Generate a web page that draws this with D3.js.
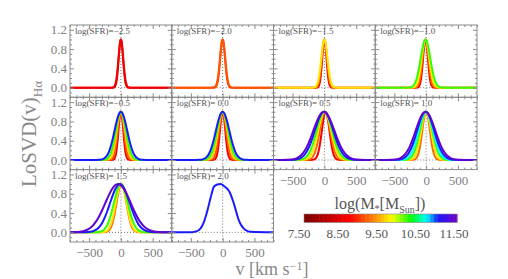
<!DOCTYPE html>
<html><head><meta charset="utf-8">
<script src="https://cdn.jsdelivr.net/npm/d3@7"></script>
<style>
body{margin:0;background:#fff}
svg{display:block}
text{font-family:"Liberation Serif","DejaVu Serif",serif}
</style>
</head><body>
<svg id="c" width="508" height="279"></svg>
<script>
// ---------------- DATA ----------------
const sfrLabels = ["\u22122.5","\u22122.0","\u22121.5","\u22121.0","\u22120.5"," 0.0"," 0.5"," 1.0"," 1.5"," 2.0"];
// stellar mass (log Msun) of each curve, per panel
const panelMasses = [
  [8.3, 8.6],
  [8.9, 9.1],
  [8.6, 9.2, 9.7],
  [8.6, 9.2, 9.7, 10.2],
  [8.6, 9.1, 9.6, 10.2, 11.0],
  [8.6, 9.1, 9.6, 10.2, 11.0],
  [8.6, 9.2, 9.7, 10.2, 11.0, 11.4],
  [9.2, 9.7, 10.2, 10.7, 11.0, 11.4],
  [9.2, 9.7, 10.2, 11.0, 11.4],
  [11.0]
];
// line widths (sigma, km/s)
const panelSigmas = [
  [34, 38],
  [38, 42],
  [34, 42, 50],
  [38, 48, 60, 76],
  [38, 50, 64, 80, 100],
  [42, 56, 72, 88, 106],
  [60, 82, 102, 122, 146, 166],
  [60, 78, 98, 115, 135, 155],
  [78, 86, 110, 155, 200],
  [0]
];
// line centres (km/s)
const panelCenters = [
  [0, 0],
  [0, 0],
  [0, 0, 0],
  [-10, -10, -10, -10],
  [0, 0, 0, 0, 0],
  [0, 0, 0, 0, 0],
  [20, 10, 5, 0, -5, -8],
  [0, 0, 0, -5, -8, -10],
  [10, 5, 0, -15, -45],
  [0]
];
// normalised line shape (offset in sigma units -> height)
const shapeU = [0, 0.25, 0.5, 0.75, 1, 1.25, 1.5, 1.75, 2, 2.25, 2.5, 2.75, 3, 3.5, 4];
const shapeY = [1, 0.969, 0.882, 0.755, 0.607, 0.458, 0.325, 0.216, 0.135, 0.080, 0.044, 0.023, 0.011, 0.002, 0];
// log(SFR)=2.0 panel: single asymmetric profile
const sfr20V = [-800, -500, -450, -370, -295, -240, -190, -135, -85, -30, 20, 75, 115, 180, 255, 360, 440, 800];
const sfr20Y = [0, 0, 0.01, 0.05, 0.21, 0.45, 0.71, 0.95, 0.99, 1.0, 0.96, 0.90, 0.82, 0.58, 0.25, 0.05, 0.01, 0];
const sfr20Mass = 11.0;

const xTicks = [-500, 0, 500];
const yTicks = [0, 0.4, 0.8, 1.2];
const cbTicks = [7.5, 8.5, 9.5, 10.5, 11.5];
const colorStops = [7.5, 8.7, 9.3, 9.8, 10.3, 10.7, 11.0, 11.5];
const colorList = ["#780000", "#ff0000", "#ff8000", "#ffff00", "#00ff00", "#00ffff", "#1a1aff", "#7000c8"];

// ---------------- LAYOUT ----------------
const svg = d3.select("#c");
const colX = [70, 171.75, 273.5, 375.25, 477];
const rowY = [25, 97.3, 169.6, 242];
const xDomain = [-800, 800], yDomain = [-0.2, 1.3];
const color = d3.scaleLinear().domain(colorStops).range(colorList).interpolate(d3.interpolateRgb);
const frameCol = "#8a8a8a", labCol = "#808080";

sfrLabels.forEach((lab, i) => {
  const r = Math.floor(i / 4), c = i % 4;
  const x0 = colX[c], x1 = colX[c + 1], y0 = rowY[r], y1 = rowY[r + 1];
  const x = d3.scaleLinear().domain(xDomain).range([x0, x1]);
  const y = d3.scaleLinear().domain(yDomain).range([y1, y0]);
  const g = svg.append("g");
  const cid = "clip" + i;
  svg.append("clipPath").attr("id", cid).append("rect")
    .attr("x", x0).attr("y", y0).attr("width", x1 - x0).attr("height", y1 - y0);

  // dotted reference lines
  g.append("line").attr("x1", x(0)).attr("x2", x(0)).attr("y1", y0).attr("y2", y1)
    .attr("stroke", "#777").attr("stroke-width", 1).attr("stroke-dasharray", "1,2");
  g.append("line").attr("x1", x0).attr("x2", x1).attr("y1", y(0)).attr("y2", y(0))
    .attr("stroke", "#777").attr("stroke-width", 1).attr("stroke-dasharray", "1,2");

  const line = d3.line().x(d => x(d[0])).y(d => y(d[1])).curve(d3.curveMonotoneX);
  const cg = g.append("g").attr("clip-path", `url(#${cid})`);
  if (i === 9) {
    const pts = sfr20V.map((v, k) => [v, sfr20Y[k]]);
    cg.append("path").attr("d", line(pts)).attr("fill", "none")
      .attr("stroke", color(sfr20Mass)).attr("stroke-width", 2);
  } else {
    panelMasses[i].forEach((m, j) => {
      const s = panelSigmas[i][j], ce = panelCenters[i][j];
      const pts = [[xDomain[0], 0]];
      for (let k = shapeU.length - 1; k > 0; k--) pts.push([ce - shapeU[k] * s, shapeY[k]]);
      for (let k = 0; k < shapeU.length; k++) pts.push([ce + shapeU[k] * s, shapeY[k]]);
      pts.push([xDomain[1], 0]);
      cg.append("path").attr("d", line(pts)).attr("fill", "none")
        .attr("stroke", color(m)).attr("stroke-width", 2);
    });
  }

  // axes (ticks inward, all four sides)
  const showX = (r === 2) || (r === 1 && c >= 2);
  const showY = c === 0;
  const minorX = d3.range(-800, 801, 100).filter(v => !xTicks.includes(v));
  const minorY = d3.range(-0.1, 1.25, 0.1).map(v => +v.toFixed(1)).filter(v => !yTicks.includes(v));
  const axes = [
    [d3.axisBottom(x), `translate(0,${y1})`, xTicks, minorX, showX],
    [d3.axisTop(x), `translate(0,${y0})`, xTicks, minorX, false],
    [d3.axisLeft(y), `translate(${x0},0)`, yTicks, minorY, showY],
    [d3.axisRight(y), `translate(${x1},0)`, yTicks, minorY, false]
  ];
  axes.forEach(([ax, tr, maj, mn, lbl], k) => {
    const isX = k < 2;
    const fmt = lbl ? (isX ? d3.format("d") : d3.format(".1f")) : () => "";
    const a1 = g.append("g").attr("transform", tr)
      .call(ax.tickValues(maj).tickSize(-4).tickSizeOuter(0).tickPadding(isX ? 6 : 3).tickFormat(fmt));
    a1.select(".domain").remove();
    a1.selectAll("line").attr("stroke", frameCol);
    a1.selectAll("text").attr("fill", labCol).style("font-size", "13px").style("font-family", '"Liberation Serif",serif');
    const a2 = g.append("g").attr("transform", tr)
      .call(ax.tickValues(mn).tickSize(-2).tickSizeOuter(0).tickFormat(() => ""));
    a2.select(".domain").remove();
    a2.selectAll("line").attr("stroke", frameCol);
  });

  g.append("rect").attr("x", x0).attr("y", y0).attr("width", x1 - x0).attr("height", y1 - y0)
    .attr("fill", "none").attr("stroke", frameCol).attr("stroke-width", 1);

  g.append("text").attr("x", x0 + 5).attr("y", y0 + 9).attr("fill", "#555")
    .style("font-size", "9px").attr("xml:space", "preserve").style("white-space", "pre")
    .text("log(SFR)=" + lab);
});

// axis titles
const yl = svg.append("text").attr("transform", "translate(36,134) rotate(-90)")
  .attr("text-anchor", "middle").attr("fill", "#888").style("font-size", "21px");
yl.append("tspan").text("LoSVD(v)");
yl.append("tspan").attr("dy", 6).style("font-size", "13px").text("H\u03b1");

const xl = svg.append("text").attr("x", 272).attr("y", 275).attr("text-anchor", "middle")
  .attr("fill", "#888").style("font-size", "18px");
xl.append("tspan").text("v [km s");
xl.append("tspan").attr("dy", -5).style("font-size", "12px").text("\u22121");
xl.append("tspan").attr("dy", 5).text("]");

// colour bar
const cb = d3.scaleLinear().domain([7.5, 11.5]).range([304, 457]);
const nBlocks = 40;
const blocks = d3.range(nBlocks).map(k => 7.5 + (k + 0.5) * 4 / nBlocks);
svg.append("g").selectAll("rect").data(blocks).join("rect")
  .attr("x", d => cb(d - 2 / nBlocks)).attr("width", cb(7.5 + 4 / nBlocks) - cb(7.5) + 0.5)
  .attr("y", 214).attr("height", 8.5).attr("fill", d => color(d));
svg.append("rect").attr("x", cb(7.5)).attr("y", 214).attr("width", cb(11.5) - cb(7.5)).attr("height", 8.5)
  .attr("fill", "none").attr("stroke", "#888").attr("stroke-width", 0.6);
const cbl = d3.scaleLinear().domain([7.5, 11.5]).range([299, 454]);
svg.append("g").selectAll("text").data(cbTicks).join("text")
  .attr("x", d => cbl(d)).attr("y", 238).attr("text-anchor", "middle").attr("fill", "#555")
  .style("font-size", "13px").text(d => d3.format(".2f")(d));
const ct = svg.append("text").attr("x", 380).attr("y", 209).attr("text-anchor", "middle")
  .attr("fill", "#555").style("font-size", "16px");
ct.append("tspan").text("log(M");
ct.append("tspan").attr("dy", 3).style("font-size", "10px").text("*");
ct.append("tspan").attr("dy", -3).text("[M");
ct.append("tspan").attr("dy", 3.5).style("font-size", "10px").text("Sun");
ct.append("tspan").attr("dy", -3.5).text("])");
</script>
</body></html>
